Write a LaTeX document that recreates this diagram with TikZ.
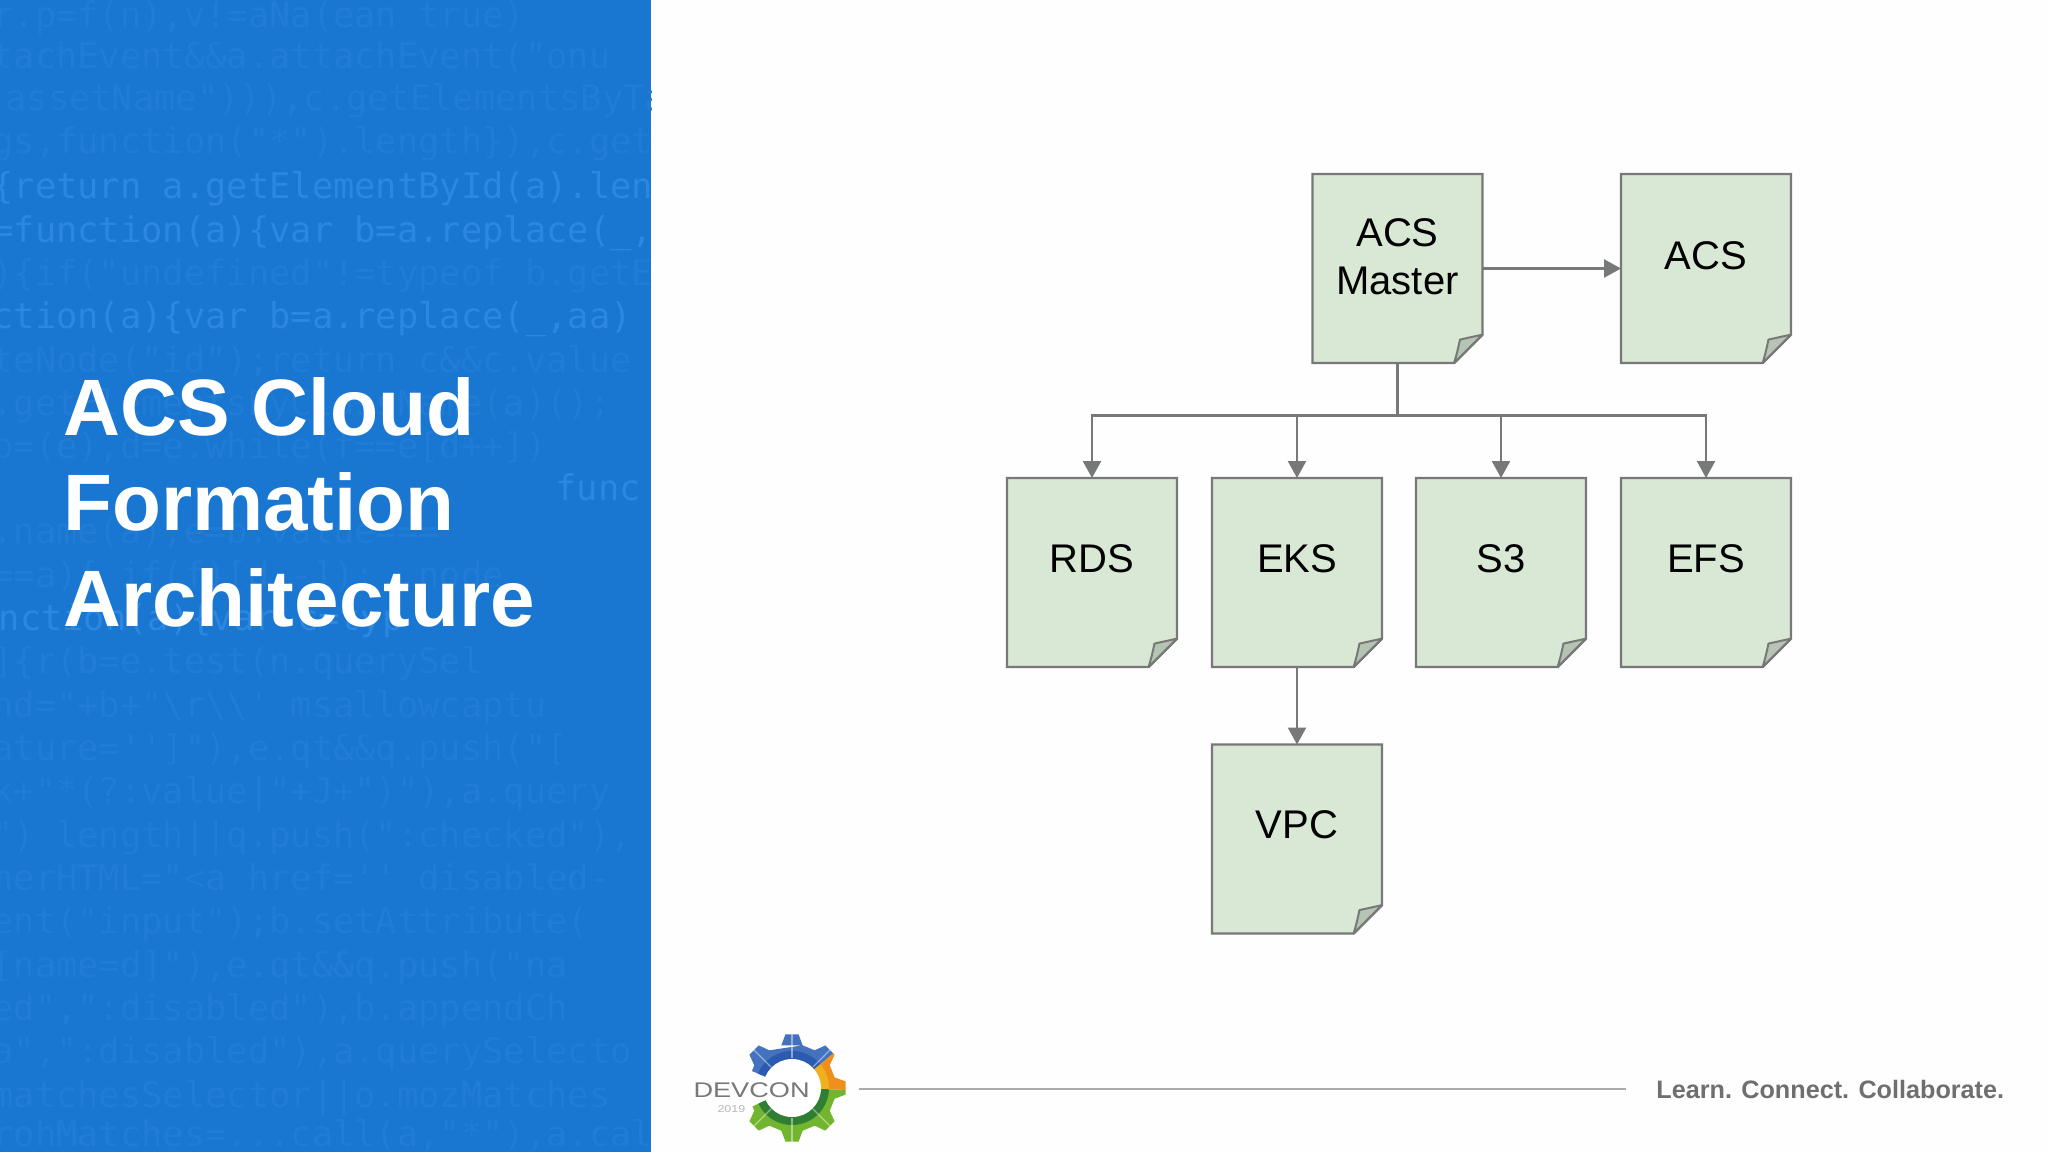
\documentclass[tikz,border=0pt]{standalone}
\usepackage{fontspec}
\setmainfont{Liberation Sans}
\newfontfamily\codefont{DejaVu Sans Mono}
\usetikzlibrary{arrows.meta}
\definecolor{pagebg}{HTML}{FEFEFE}
\definecolor{panelblue}{HTML}{1976D1}
\definecolor{codefaint}{HTML}{217CD6}
\definecolor{codebright}{HTML}{2B87DF}
\definecolor{paperfill}{HTML}{D9E8D5}
\definecolor{foldfill}{HTML}{B6C5B3}
\definecolor{edgegray}{HTML}{777878}
\definecolor{tagcolor}{HTML}{6F6F71}
\definecolor{rulegray}{HTML}{ABABAB}
\definecolor{logoblue}{HTML}{4472BE}
\definecolor{logoblued}{HTML}{2A5BB0}
\definecolor{logoorange}{HTML}{EF8F1C}
\definecolor{logoorangel}{HTML}{EDB21E}
\definecolor{logogreen}{HTML}{71B62E}
\definecolor{logogreend}{HTML}{2F7E33}
\tikzset{
  paperframe/.style={rectangle,minimum width=85pt,minimum height=94.5pt,inner sep=0pt,outer sep=0pt},
  paperedge/.style={draw=edgegray,line width=1.2pt,fill=paperfill,line join=miter},
  foldedge/.style={draw=edgegray,line width=1pt,fill=foldfill,line join=round},
  lbl/.style={anchor=base,inner sep=0pt,font=\fontsize{20pt}{24pt}\selectfont,text=black},
  conn/.style={draw=edgegray,line width=1.25pt},
  arrowconn/.style={conn,-{Triangle[length=8.5pt,width=9pt]}},
  titletext/.style={anchor=base west,inner sep=0pt,text=white,font=\fontsize{40pt}{48pt}\selectfont\bfseries},
  codetext/.style={anchor=base west,inner sep=0pt,font=\codefont\fontsize{17.7pt}{20pt}\selectfont,text=codefaint},
  codehi/.style={codetext,text=codebright},
  spoke/.style={draw=white,draw opacity=0.45,line width=0.6pt},
}
\newcommand\paperbox[3]{%
  \node[paperframe] (#1) at (#2,#3) {};
  \draw[paperedge] (#1.north west) -- (#1.north east) -- ([yshift=14.2pt]#1.south east)
    -- ([xshift=-14.2pt]#1.south east) -- (#1.south west) -- cycle;
  \draw[foldedge] ([xshift=-14.2pt]#1.south east)
    .. controls ([xshift=-13pt,yshift=4pt]#1.south east) and ([xshift=-12pt,yshift=8pt]#1.south east) .. ([xshift=-11.3pt,yshift=11.7pt]#1.south east)
    -- ([yshift=14.2pt]#1.south east) -- cycle;
}
\newcommand\gearoutline{
  ({792+44*cos(90-14)},{1088-44*sin(90-14)})
  \foreach \t in {90,45,0,-45,-90,-135,-180,-225}{
    -- ({792+44*cos(\t+14)},{1088-44*sin(\t+14)})
    -- ({792+54*cos(\t+7)},{1088-54*sin(\t+7)})
    -- ({792+54*cos(\t-7)},{1088-54*sin(\t-7)})
    -- ({792+44*cos(\t-14)},{1088-44*sin(\t-14)})
  } -- cycle
}
\newcommand\gearpart[4]{%
  \begin{scope}
    \pgfmathsetmacro\aone{#1}\pgfmathsetmacro\afour{#2}
    \pgfmathsetmacro\atwo{\aone+(\afour-\aone)/3}\pgfmathsetmacro\athree{\aone+2*(\afour-\aone)/3}
    \clip (792,1088)
      -- ({792+130*cos(\aone)},{1088-130*sin(\aone)})
      -- ({792+130*cos(\atwo)},{1088-130*sin(\atwo)})
      -- ({792+130*cos(\athree)},{1088-130*sin(\athree)})
      -- ({792+130*cos(\afour)},{1088-130*sin(\afour)}) -- cycle;
    \fill[#3] \gearoutline;
    \fill[#4] (792,1088) circle[radius=37];
  \end{scope}
}
\begin{document}
\begin{tikzpicture}[x=0.5pt,y=-0.5pt]
\useasboundingbox (0,0) rectangle (2048,1152);
\fill[pagebg] (0,0) rectangle (2048,1152);
\fill[panelblue] (0,0) rectangle (651,1152);
\begin{scope}
\clip (0,0) rectangle (651,1152);
\node[codetext] (c01) at (-8,27) {r.p=f(n),v!=aNa(ean true)};
\node[codetext] (c02) at (-8,68) {tachEvent\&\&a.attachEvent("onu};
\node[codetext] (c03) at (5,110) {assetName"))),c.getElementsByTa};
\node[codetext] (c04) at (-8,153) {gs,function("*").length\}),c.get};
\node[codehi] (c05) at (-8,198) {\{return a.getElementById(a).lengt};
\node[codehi] (c06) at (-8,242) {=function(a)\{var b=a.replace(\_,};
\node[codetext] (c07) at (-8,285) {)\{if("undefined"!=typeof b.getE};
\node[codehi] (c08) at (-8,328) {ction(a)\{var b=a.replace(\_,aa)};
\node[codetext] (c09) at (-8,372) {teNode("id");return c\&\&c.value};
\node[codetext] (c10) at (-8,415) {.getElementsByClassName(a)();};
\node[codetext] (c11) at (-8,458) {b=(e),d=e.while(f==e[d++])};
\node[codehi] (c12) at (555,500) {func};
\node[codetext] (c13) at (-8,543) {.name(a),e=b.value===};
\node[codetext] (c14) at (-8,587) {==a)\{ if(f)[d--]); .node};
\node[codehi] (c15) at (-23,630) {unction(a)\{var c=typ};
\node[codetext] (c16) at (-8,673) {]\{r(b=e.test(n.querySel};
\node[codetext] (c17) at (-8,717) {nd="+b+"\textbackslash r\textbackslash\textbackslash' msallowcaptu};
\node[codetext] (c18) at (-8,760) {ature='']"),e.qt\&\&q.push("[};
\node[codetext] (c19) at (-8,803) {k+"*(?:value|"+J+")"),a.query};
\node[codetext] (c20) at (-8,847) {") length||q.push(":checked"),};
\node[codetext] (c21) at (-8,890) {nerHTML="<a href='' disabled-};
\node[codetext] (c22) at (-8,933) {ent("input");b.setAttribute(};
\node[codetext] (c23) at (-8,977) {[name=d]"),e.qt\&\&q.push("na};
\node[codetext] (c24) at (-8,1020) {ed",":disabled"),b.appendCh};
\node[codetext] (c25) at (-8,1063) {a",":disabled"),a.querySelecto};
\node[codetext] (c26) at (-8,1107) {matchesSelector||o.mozMatches};
\node[codetext] (c27) at (-8,1146) {rohMatches=...call(a,"*"),a.call(};
\end{scope}
\node[titletext,xscale=0.985] (t1) at (63,435) {ACS Cloud};
\node[titletext] (t2) at (63,530) {Formation};
\node[titletext] (t3) at (63,626) {Architecture};

\paperbox{acsm}{1397.5}{268.5}
\paperbox{acs}{1706}{268.5}
\paperbox{rds}{1092}{572.5}
\paperbox{eks}{1297}{572.5}
\paperbox{sthree}{1501}{572.5}
\paperbox{efs}{1706}{572.5}
\paperbox{vpc}{1297}{839}
\node[lbl] (l1) at (1397.5,246) {ACS};
\node[lbl] (l2) at (1397.5,294) {Master};
\node[lbl] (l3) at (1706,269) {ACS};
\node[lbl] (l4) at (1092,572) {RDS};
\node[lbl] (l5) at (1297,572) {EKS};
\node[lbl] (l6) at (1501,572) {S3};
\node[lbl] (l7) at (1706,572) {EFS};
\node[lbl] (l8) at (1297,838) {VPC};

\coordinate (bus) at (1397.5,415.5);
\coordinate (busrds) at (rds.north |- bus);
\coordinate (buseks) at (eks.north |- bus);
\coordinate (busstr) at (sthree.north |- bus);
\coordinate (busefs) at (efs.north |- bus);
\draw[arrowconn] (acsm.east) -- (acs.west);
\draw[conn,line cap=rect] (acsm.south) -- (bus);
\draw[conn,line join=miter] (rds.north |- {(0,428)}) -- (busrds) -- (busefs) -- (efs.north |- {(0,428)});
\draw[arrowconn] (busrds) -- (rds.north);
\draw[arrowconn] (buseks) -- (eks.north);
\draw[arrowconn] (busstr) -- (sthree.north);
\draw[arrowconn] (busefs) -- (efs.north);
\draw[arrowconn] (eks.south) -- (vpc.north);

% logo
\gearpart{40}{157}{fill=logoblue}{fill=logoblued}
\gearpart{-2}{40}{fill=logoorange}{fill=logoorangel}
\gearpart{-155}{-2}{fill=logogreen}{fill=logogreend}
\foreach \t in {90,45,135,-45,-90,-135}{
  \draw[spoke] ({792+30*cos(\t)},{1088-30*sin(\t)}) -- ({792+54*cos(\t)},{1088-54*sin(\t)});
}
\fill[white] (792,1088) circle[radius=29];
\node[anchor=base west,inner sep=0pt,text=edgegray,xscale=1.28,font=\fontsize{10.6pt}{12pt}\selectfont] (devcon) at (693,1097) {DEVCON};
\node[anchor=base west,inner sep=0pt,text=gray!55,font=\fontsize{5pt}{6pt}\selectfont,xscale=1.25] (year) at (717,1112) {2019};

\coordinate (rulestart) at (859,1089);
\coordinate (ruleend) at (1626,1089);
\draw[draw=rulegray,line width=0.8pt] (rulestart) -- (ruleend);
\node[anchor=base west,inner sep=0pt,text=tagcolor,font=\fontsize{12.6pt}{15pt}\selectfont\bfseries] (tag) at (1656,1098) {Learn. Connect. Collaborate.};
\end{tikzpicture}
\end{document}
